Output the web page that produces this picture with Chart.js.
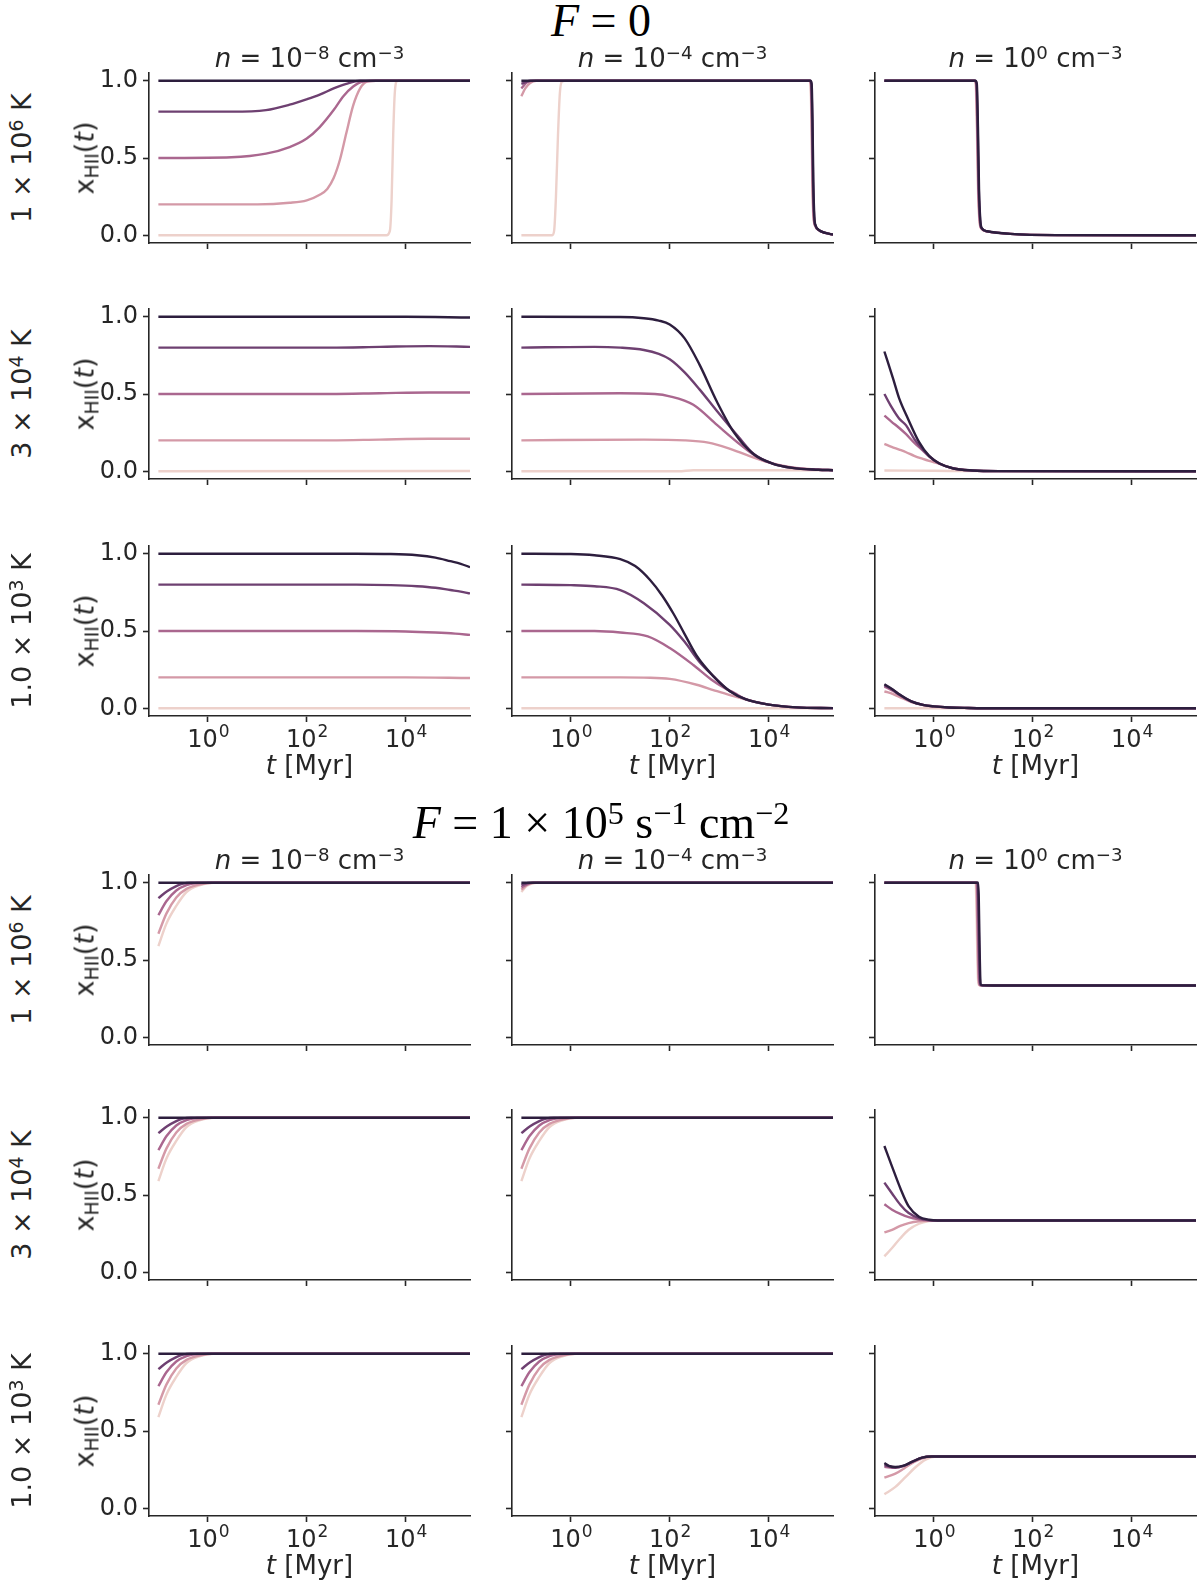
<!DOCTYPE html>
<html>
<head>
<meta charset="utf-8">
<script src="https://cdn.jsdelivr.net/npm/chart.js@4.4.0/dist/chart.umd.min.js"></script>
<style>
  body { margin: 0; background: #fff; }
  #fig { position: relative; width: 1200px; height: 1584px; overflow: hidden;
         font-family: "DejaVu Sans"; color: #262626; }
  canvas { position: absolute; }
  .lbl { position: absolute; white-space: nowrap; line-height: 1;
         transform: translate(-50%, -50%); font-size: 26px; }
  .rot { transform: translate(-50%, -50%) rotate(-90deg); font-size: 27px; }
  .lbl sup { font-size: 70%; position: relative; top: -0.45em; line-height: 0; vertical-align: baseline; }
  .lbl sub { font-size: 70%; position: relative; top: 0.25em; line-height: 0; vertical-align: baseline; }
  .big { font-family: "Liberation Serif"; font-size: 46px; color: #000; }
</style>
</head>
<body>
<div id="fig"></div>
<script>
// line colours, lightest (x0 = 0) to darkest (x0 = 1)
var palette = ["#edd1cb", "#d499a7", "#aa678f", "#6e4071", "#2d1e3e"];

var xTicks = [1, 100, 10000];
var xTickExps = ["0", "2", "4"];
var yTicks = [0, 0.5, 1];
var yTickLabels = ["0.0", "0.5", "1.0"];

var fluxTitles = ["<i>F</i> = 0", "<i>F</i> = 1 × 10<sup>5</sup> s<sup>−1</sup> cm<sup>−2</sup>"];
var densityTitles = [
  "<i>n</i> = 10<sup>−8</sup> cm<sup>−3</sup>",
  "<i>n</i> = 10<sup>−4</sup> cm<sup>−3</sup>",
  "<i>n</i> = 10<sup>0</sup> cm<sup>−3</sup>",
];
var tempLabels = ["1 × 10<sup>6</sup> K", "3 × 10<sup>4</sup> K", "1.0 × 10<sup>3</sup> K"];

// each panel: five series of [t in Myr, x_HII]
// F = 0, T = 1e6 K
var f0_T6_n8 = [
  [[0.1, 0], [4100, 0], [4800, 0.03], [5200, 0.23], [5600, 0.65], [6000, 0.91], [6500, 0.995], [7000, 1], [2e5, 1]],
  [[0.1, 0.2], [10, 0.2], [45, 0.21], [100, 0.226], [183, 0.262], [260, 0.3], [350, 0.37], [470, 0.49], [630, 0.66], [870, 0.84], [1200, 0.95], [1650, 0.995], [2500, 1], [2e5, 1]],
  [[0.1, 0.5], [3, 0.505], [15, 0.528], [45, 0.571], [100, 0.626], [183, 0.7], [350, 0.81], [550, 0.9], [870, 0.963], [1380, 0.995], [2500, 1], [2e5, 1]],
  [[0.1, 0.8], [3, 0.8], [15, 0.81], [45, 0.845], [100, 0.88], [183, 0.91], [350, 0.95], [630, 0.98], [1200, 1], [2e5, 1]],
  [[0.1, 1], [2e5, 1]],
];
var f0_T6_n4 = [
  [[0.1, 0], [0.42, 0], [0.46, 0.03], [0.5, 0.25], [0.55, 0.65], [0.6, 0.92], [0.66, 0.995], [0.75, 1], [6.6e4, 1], [7e4, 0.98], [7.3e4, 0.75], [7.6e4, 0.35], [8e4, 0.12], [8.8e4, 0.06], [1e5, 0.037], [1.4e5, 0.015], [2e5, 0.005]],
  [[0.1, 0.9], [0.12, 0.95], [0.15, 0.985], [0.2, 1], [6.7e4, 1], [7.1e4, 0.98], [7.4e4, 0.75], [7.7e4, 0.35], [8.1e4, 0.12], [8.8e4, 0.06], [1e5, 0.037], [1.4e5, 0.015], [2e5, 0.005]],
  [[0.1, 0.95], [0.13, 0.99], [0.18, 1], [6.8e4, 1], [7.2e4, 0.98], [7.5e4, 0.75], [7.8e4, 0.35], [8.2e4, 0.12], [8.8e4, 0.06], [1e5, 0.037], [1.4e5, 0.015], [2e5, 0.005]],
  [[0.1, 0.98], [0.15, 1], [6.9e4, 1], [7.3e4, 0.98], [7.6e4, 0.75], [7.9e4, 0.35], [8.3e4, 0.12], [8.9e4, 0.06], [1e5, 0.037], [1.4e5, 0.015], [2e5, 0.005]],
  [[0.1, 1], [7e4, 1], [7.4e4, 0.98], [7.7e4, 0.75], [8e4, 0.35], [8.4e4, 0.12], [9e4, 0.06], [1e5, 0.038], [1.4e5, 0.015], [2e5, 0.005]],
];
var f0_T6_n0 = [
  [[0.1, 1], [6.5, 1], [7.0, 0.98], [7.4, 0.7], [7.8, 0.3], [8.3, 0.1], [9.0, 0.045], [12, 0.025], [35, 0.009], [300, 0.001], [2e5, 0]],
  [[0.1, 1], [6.6, 1], [7.1, 0.98], [7.5, 0.7], [7.9, 0.3], [8.4, 0.1], [9.1, 0.045], [12, 0.025], [35, 0.009], [300, 0.001], [2e5, 0]],
  [[0.1, 1], [6.7, 1], [7.2, 0.98], [7.6, 0.7], [8.0, 0.3], [8.5, 0.1], [9.2, 0.045], [12, 0.025], [35, 0.009], [300, 0.001], [2e5, 0]],
  [[0.1, 1], [6.8, 1], [7.3, 0.98], [7.7, 0.7], [8.1, 0.3], [8.6, 0.1], [9.3, 0.045], [12, 0.025], [35, 0.009], [300, 0.001], [2e5, 0]],
  [[0.1, 1], [6.9, 1], [7.4, 0.98], [7.8, 0.7], [8.2, 0.3], [8.7, 0.1], [9.4, 0.045], [12, 0.026], [35, 0.009], [300, 0.001], [2e5, 0]],
];
// F = 0, T = 3e4 K
var f0_T4_n8 = [
  [[0.1, 0], [2e5, 0.002]],
  [[0.1, 0.2], [300, 0.2], [3000, 0.205], [3e4, 0.21], [2e5, 0.21]],
  [[0.1, 0.5], [300, 0.5], [3000, 0.505], [3e4, 0.51], [2e5, 0.51]],
  [[0.1, 0.8], [300, 0.8], [3000, 0.805], [3e4, 0.81], [2e5, 0.805]],
  [[0.1, 1], [1e4, 1], [2e5, 0.995]],
];
var f0_T4_n4 = [
  [[0.1, 0], [150, 0], [300, 0.007], [2e5, 0.007]],
  [[0.1, 0.2], [30, 0.205], [200, 0.2], [600, 0.185], [1500, 0.15], [4000, 0.1], [1e4, 0.058], [3e4, 0.025], [1e5, 0.011], [2e5, 0.008]],
  [[0.1, 0.5], [10, 0.505], [50, 0.5], [100, 0.485], [300, 0.43], [900, 0.3], [2500, 0.18], [6000, 0.09], [1.2e4, 0.05], [3e4, 0.023], [1e5, 0.01], [2e5, 0.007]],
  [[0.1, 0.8], [3, 0.805], [10, 0.8], [30, 0.785], [60, 0.76], [100, 0.725], [200, 0.64], [400, 0.53], [900, 0.39], [2500, 0.22], [5000, 0.112], [1.2e4, 0.05], [3e4, 0.022], [1e5, 0.01], [2e5, 0.007]],
  [[0.1, 1], [10, 0.998], [30, 0.99], [60, 0.975], [100, 0.95], [200, 0.86], [400, 0.69], [900, 0.45], [2000, 0.25], [5000, 0.11], [1.2e4, 0.05], [3e4, 0.022], [1e5, 0.01], [2e5, 0.007]],
];
var f0_T4_n0 = [
  [[0.1, 0.005], [1, 0.003], [10, 0.001], [2e5, 0]],
  [[0.1, 0.177], [0.14, 0.158], [0.2, 0.14], [0.275, 0.123], [0.4, 0.1], [0.6, 0.08], [0.8, 0.067], [1.3, 0.048], [2.5, 0.018], [6, 0.005], [20, 0.001], [2e5, 0]],
  [[0.1, 0.36], [0.14, 0.32], [0.2, 0.28], [0.275, 0.24], [0.4, 0.185], [0.6, 0.134], [0.8, 0.095], [1.3, 0.049], [2.5, 0.018], [6, 0.005], [20, 0.001], [2e5, 0]],
  [[0.1, 0.5], [0.14, 0.415], [0.2, 0.34], [0.275, 0.297], [0.4, 0.21], [0.6, 0.14], [0.8, 0.1], [1.3, 0.05], [2.5, 0.018], [6, 0.005], [20, 0.001], [2e5, 0]],
  [[0.1, 0.775], [0.15, 0.6], [0.2, 0.47], [0.3, 0.34], [0.5, 0.19], [0.8, 0.1], [1.3, 0.05], [2.5, 0.018], [6, 0.005], [20, 0.001], [2e5, 0]],
];
// F = 0, T = 1e3 K
var f0_T3_n8 = [
  [[0.1, 0], [2e5, 0]],
  [[0.1, 0.2], [1e4, 0.2], [2e5, 0.196]],
  [[0.1, 0.5], [1000, 0.5], [1e4, 0.497], [4e4, 0.49], [1e5, 0.483], [2e5, 0.475]],
  [[0.1, 0.8], [1000, 0.8], [5000, 0.797], [1.7e4, 0.79], [4e4, 0.78], [8e4, 0.765], [1.3e5, 0.755], [2e5, 0.743]],
  [[0.1, 1], [1000, 1], [5000, 0.998], [1.7e4, 0.99], [4e4, 0.975], [8e4, 0.952], [1.3e5, 0.935], [2e5, 0.913]],
];
var f0_T3_n4 = [
  [[0.1, 0], [2e5, 0]],
  [[0.1, 0.2], [10, 0.2], [30, 0.198], [100, 0.19], [350, 0.152], [760, 0.118], [1650, 0.085], [3500, 0.057], [1e4, 0.024], [3.7e4, 0.006], [2e5, 0.001]],
  [[0.1, 0.5], [3, 0.5], [10, 0.49], [36, 0.465], [100, 0.39], [300, 0.28], [700, 0.185], [1300, 0.13], [2000, 0.1], [3500, 0.057], [1e4, 0.024], [3.7e4, 0.006], [2e5, 0.001]],
  [[0.1, 0.8], [1, 0.797], [3, 0.79], [10, 0.765], [30, 0.68], [100, 0.54], [200, 0.43], [400, 0.3], [750, 0.21], [1650, 0.11], [3500, 0.057], [1e4, 0.024], [3.7e4, 0.006], [2e5, 0.001]],
  [[0.1, 1], [1, 0.998], [3, 0.99], [10, 0.965], [20, 0.92], [40, 0.83], [70, 0.73], [120, 0.61], [200, 0.48], [350, 0.34], [750, 0.21], [1650, 0.11], [3500, 0.057], [1e4, 0.024], [3.7e4, 0.006], [2e5, 0.001]],
];
var f0_T3_n0 = [
  [[0.1, 0], [2e5, 0]],
  [[0.1, 0.11], [0.15, 0.092], [0.2, 0.074], [0.35, 0.04], [0.6, 0.021], [1, 0.012], [2, 0.005], [5, 0.002], [20, 0], [2e5, 0]],
  [[0.1, 0.14], [0.15, 0.112], [0.2, 0.086], [0.35, 0.044], [0.6, 0.022], [1, 0.012], [2, 0.005], [5, 0.002], [20, 0], [2e5, 0]],
  [[0.1, 0.15], [0.15, 0.118], [0.2, 0.089], [0.35, 0.045], [0.6, 0.022], [1, 0.012], [2, 0.005], [5, 0.002], [20, 0], [2e5, 0]],
  [[0.1, 0.155], [0.15, 0.12], [0.2, 0.09], [0.35, 0.045], [0.6, 0.022], [1, 0.012], [2, 0.005], [5, 0.002], [20, 0], [2e5, 0]],
];
// F = 1e5: the low-density panels all rise to full ionisation the same way
var f1_rise = [
  [[0.1, 0.59], [0.145, 0.735], [0.23, 0.85], [0.37, 0.94], [0.7, 0.985], [1.3, 1], [2e5, 1]],
  [[0.1, 0.67], [0.145, 0.8], [0.23, 0.905], [0.37, 0.96], [0.7, 0.99], [1.2, 1], [2e5, 1]],
  [[0.1, 0.79], [0.145, 0.88], [0.23, 0.95], [0.37, 0.985], [0.6, 0.998], [1, 1], [2e5, 1]],
  [[0.1, 0.9], [0.15, 0.945], [0.22, 0.975], [0.3, 0.992], [0.45, 1], [2e5, 1]],
  [[0.1, 1], [2e5, 1]],
];
var f1_T6_n4 = [
  [[0.1, 0.94], [0.13, 0.98], [0.2, 1], [2e5, 1]],
  [[0.1, 0.955], [0.13, 0.985], [0.18, 1], [2e5, 1]],
  [[0.1, 0.97], [0.13, 0.99], [0.17, 1], [2e5, 1]],
  [[0.1, 0.985], [0.15, 1], [2e5, 1]],
  [[0.1, 1], [2e5, 1]],
];
var f1_T6_n0 = [
  [[0.1, 1], [7.0, 1], [7.2, 0.9], [7.5, 0.6], [7.8, 0.38], [8.1, 0.34], [9, 0.336], [20, 0.335], [2e5, 0.335]],
  [[0.1, 1], [7.2, 1], [7.4, 0.9], [7.7, 0.6], [8.0, 0.38], [8.3, 0.34], [9.2, 0.336], [20, 0.335], [2e5, 0.335]],
  [[0.1, 1], [7.4, 1], [7.6, 0.9], [7.9, 0.6], [8.2, 0.38], [8.5, 0.34], [9.4, 0.336], [20, 0.335], [2e5, 0.335]],
  [[0.1, 1], [7.7, 1], [7.9, 0.9], [8.2, 0.6], [8.5, 0.38], [8.8, 0.34], [9.6, 0.336], [20, 0.335], [2e5, 0.335]],
  [[0.1, 1], [7.9, 1], [8.1, 0.9], [8.4, 0.6], [8.7, 0.38], [9.0, 0.34], [9.8, 0.336], [20, 0.335], [2e5, 0.335]],
];
var f1_T4_n0 = [
  [[0.1, 0.103], [0.143, 0.157], [0.21, 0.22], [0.31, 0.275], [0.5, 0.314], [0.8, 0.331], [1.2, 0.335], [2e5, 0.335]],
  [[0.1, 0.258], [0.143, 0.275], [0.21, 0.3], [0.31, 0.318], [0.5, 0.33], [0.8, 0.334], [1.2, 0.335], [2e5, 0.335]],
  [[0.1, 0.44], [0.143, 0.405], [0.21, 0.378], [0.31, 0.357], [0.5, 0.343], [0.8, 0.336], [1.2, 0.335], [2e5, 0.335]],
  [[0.1, 0.58], [0.143, 0.51], [0.21, 0.437], [0.31, 0.383], [0.5, 0.35], [0.8, 0.337], [1.2, 0.335], [2e5, 0.335]],
  [[0.1, 0.817], [0.143, 0.684], [0.21, 0.544], [0.31, 0.426], [0.5, 0.36], [0.8, 0.34], [1.2, 0.335], [2e5, 0.335]],
];
var f1_T3_n0 = [
  [[0.1, 0.09], [0.167, 0.138], [0.27, 0.203], [0.43, 0.267], [0.68, 0.315], [1.1, 0.335], [2e5, 0.335]],
  [[0.1, 0.198], [0.167, 0.224], [0.25, 0.258], [0.4, 0.3], [0.65, 0.328], [1, 0.335], [2e5, 0.335]],
  [[0.1, 0.268], [0.167, 0.262], [0.245, 0.274], [0.36, 0.299], [0.58, 0.328], [0.9, 0.335], [2e5, 0.335]],
  [[0.1, 0.28], [0.167, 0.264], [0.245, 0.275], [0.36, 0.3], [0.58, 0.328], [0.9, 0.335], [2e5, 0.335]],
  [[0.1, 0.293], [0.123, 0.275], [0.167, 0.267], [0.245, 0.276], [0.36, 0.3], [0.58, 0.328], [0.9, 0.335], [2e5, 0.335]],
];

var panels = [
  [f0_T6_n8, f0_T6_n4, f0_T6_n0],
  [f0_T4_n8, f0_T4_n4, f0_T4_n0],
  [f0_T3_n8, f0_T3_n4, f0_T3_n0],
  [f1_rise, f1_T6_n4, f1_T6_n0],
  [f1_rise, f1_rise, f1_T4_n0],
  [f1_rise, f1_rise, f1_T3_n0],
];

var COL_LEFT = [149, 512, 875];
var ROW_TOP = [73, 309, 546, 875, 1110, 1346];
var PLOT_W = 321, PLOT_H = 170;
var PAD_L = 90, PAD_T = 12, PAD_R = 12, PAD_B = 80;
var X_MIN = 0.0646, X_MAX = 2e5;
var ink = "#262626";
var tickFont = { family: "DejaVu Sans", size: 24 };

// draws "10" with a raised exponent under each x tick
var powerTicks = {
  id: "powerTicks",
  afterDraw: function (chart, args, opts) {
    if (!opts.show) return;
    var xs = chart.scales.x;
    var ctx = chart.ctx;
    ctx.save();
    ctx.fillStyle = ink;
    ctx.textAlign = "left";
    ctx.textBaseline = "alphabetic";
    xTicks.forEach(function (v, i) {
      ctx.font = "24px 'DejaVu Sans'";
      var w1 = ctx.measureText("10").width;
      ctx.font = "17px 'DejaVu Sans'";
      var w2 = ctx.measureText(xTickExps[i]).width;
      var x0 = xs.getPixelForValue(v) - (w1 + w2) / 2;
      var y0 = xs.top + 31;
      ctx.font = "24px 'DejaVu Sans'";
      ctx.fillText("10", x0, y0);
      ctx.font = "17px 'DejaVu Sans'";
      ctx.fillText(xTickExps[i], x0 + w1 + 1, y0 - 10);
    });
    ctx.restore();
  },
};

var fig = document.getElementById("fig");

function addLabel(html, x, y, cls) {
  var d = document.createElement("div");
  d.className = "lbl " + (cls || "");
  d.innerHTML = html;
  d.style.left = x + "px";
  d.style.top = y + "px";
  fig.appendChild(d);
}

function makePanel(data, left, top, showY, showX) {
  var canvas = document.createElement("canvas");
  canvas.width = PAD_L + PLOT_W + PAD_R;
  canvas.height = PAD_T + PLOT_H + PAD_B;
  canvas.style.left = left - PAD_L + "px";
  canvas.style.top = top - PAD_T + "px";
  fig.appendChild(canvas);

  new Chart(canvas.getContext("2d"), {
    type: "line",
    plugins: [powerTicks],
    data: {
      datasets: data.map(function (series, i) {
        return {
          data: series.map(function (p) {
            return { x: p[0], y: p[1] };
          }),
          borderColor: palette[i],
          borderWidth: 2.4,
          pointRadius: 0,
          fill: false,
          cubicInterpolationMode: "monotone",
          order: data.length - 1 - i, // darkest drawn on top
        };
      }),
    },
    options: {
      responsive: false,
      animation: false,
      events: [],
      layout: { padding: { left: 0, top: PAD_T, right: PAD_R, bottom: 0 } },
      plugins: {
        legend: { display: false },
        tooltip: { enabled: false },
        powerTicks: { show: showX },
      },
      scales: {
        x: {
          type: "logarithmic",
          min: X_MIN,
          max: X_MAX,
          bounds: "data",
          afterBuildTicks: function (s) {
            s.ticks = xTicks.map(function (v) { return { value: v }; });
          },
          afterFit: function (s) {
            s.height = PAD_B;
            s.paddingLeft = 0;
            s.paddingRight = 0;
          },
          ticks: { display: false },
          grid: { drawOnChartArea: false, tickLength: 6, tickWidth: 1.6, tickColor: ink },
          border: { color: ink, width: 1.6 },
        },
        y: {
          type: "linear",
          min: -0.05,
          max: 1.05,
          bounds: "data",
          afterBuildTicks: function (s) {
            s.ticks = yTicks.map(function (v) { return { value: v }; });
          },
          afterFit: function (s) {
            s.width = PAD_L;
            s.paddingTop = 0;
            s.paddingBottom = 0;
          },
          ticks: {
            display: showY,
            padding: 5,
            color: ink,
            font: tickFont,
            callback: function (v, i) { return yTickLabels[i]; },
          },
          grid: { drawOnChartArea: false, tickLength: 6, tickWidth: 1.6, tickColor: ink },
          border: { color: ink, width: 1.6 },
        },
      },
    },
  });
}

for (var r = 0; r < 6; r++) {
  for (var c = 0; c < 3; c++) {
    makePanel(panels[r][c], COL_LEFT[c], ROW_TOP[r], c === 0, r === 2 || r === 5);
  }
  var midY = ROW_TOP[r] + PLOT_H / 2;
  addLabel(tempLabels[r % 3], 21, midY, "rot");
  addLabel("x<sub>HII</sub>(<i>t</i>)", 84, midY, "rot");
}

addLabel(fluxTitles[0], 601, 21, "big");
addLabel(fluxTitles[1], 601, 823, "big");
[0, 3].forEach(function (r) {
  for (var c = 0; c < 3; c++) {
    addLabel(densityTitles[c], COL_LEFT[c] + PLOT_W / 2, ROW_TOP[r] - 15, "");
  }
});
[2, 5].forEach(function (r) {
  for (var c = 0; c < 3; c++) {
    addLabel("<i>t</i> [Myr]", COL_LEFT[c] + PLOT_W / 2, ROW_TOP[r] + PLOT_H + 49, "");
  }
});
</script>
</body>
</html>
